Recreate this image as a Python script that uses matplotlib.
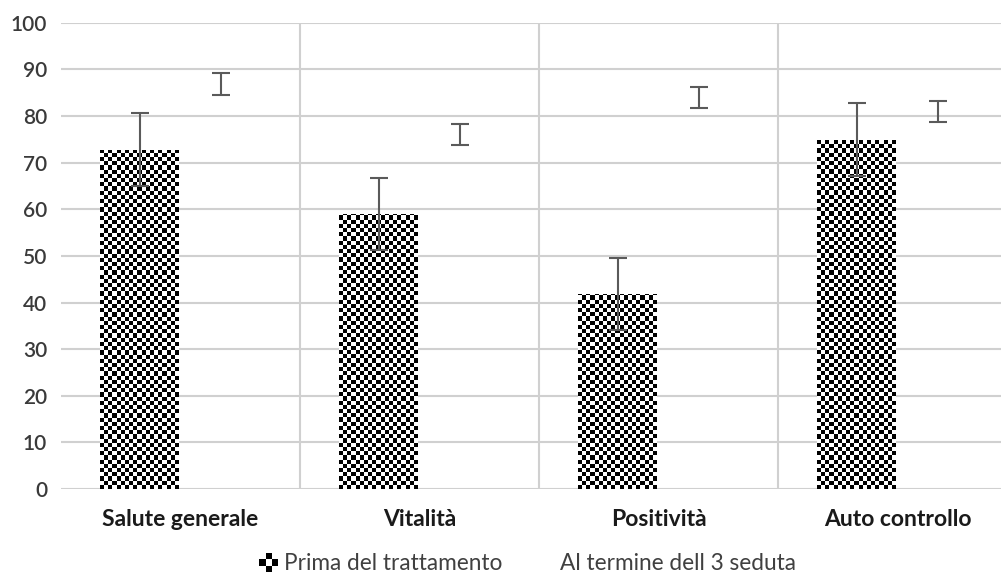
import numpy as np
import matplotlib.pyplot as plt
from matplotlib.patches import Rectangle
from matplotlib.legend_handler import HandlerBase

plt.rcParams['font.family'] = ['Lato', 'DejaVu Sans']

categories = ['Salute generale', 'Vitalità', 'Positività', 'Auto controllo']
prima = [72.8, 59.0, 41.9, 74.9]
prima_err = [7.8, 7.7, 7.7, 7.8]
dopo = [86.9, 76.0, 84.0, 81.0]
dopo_err = [2.4, 2.3, 2.3, 2.3]
labels = ['Prima del trattamento', 'Al termine dell 3 seduta']

fig = plt.figure(figsize=(10.01, 5.83), dpi=100)
ax = fig.add_axes([0.061, 0.161, 0.955, 0.8])

x = np.arange(len(categories))
w = 0.33
off = 0.17

bars1 = ax.bar(x - off, prima, w, color='none', edgecolor='none', zorder=2)
bars2 = ax.bar(x + off, dopo, w, color='none', edgecolor='none', zorder=2)

# checkerboard fill for the first series, cropped to each bar
cell_y = 0.9
ncols = 19
for b in bars1:
    x0, y0 = b.get_x(), b.get_y()
    bw, bh = b.get_width(), b.get_height()
    nrows = int(np.ceil(bh / cell_y))
    ii, jj = np.indices((nrows, ncols))
    board = ((ii + jj) % 2).astype(float)
    im = ax.imshow(board, cmap='gray', vmin=0, vmax=1, interpolation='nearest',
                   extent=(x0, x0 + bw, y0, y0 + nrows * cell_y), origin='lower',
                   aspect='auto', zorder=2)
    im.set_clip_path(b)

ax.errorbar(x - off, prima, yerr=prima_err, fmt='none', ecolor='#5a5a5a',
            elinewidth=1.5, capsize=6.5, capthick=1.5, zorder=3)
ax.errorbar(x + off, dopo, yerr=dopo_err, fmt='none', ecolor='#5a5a5a',
            elinewidth=1.5, capsize=6.5, capthick=1.5, zorder=3)

ax.set_xlim(-0.5, len(categories) - 0.5)
ax.set_ylim(0, 100)
ax.set_yticks(range(0, 101, 10))
ax.grid(axis='y', color='#d0d0d0', linewidth=1.5, zorder=0)
for xb in x[:-1] + 0.5:
    ax.axvline(xb, color='#d0d0d0', linewidth=1.5, zorder=0)
for s in ax.spines.values():
    s.set_visible(False)
ax.set_xticks(x)
ax.set_xticklabels(categories, fontsize=16.5, fontweight='bold', color='#1a1a1a')
ax.tick_params(axis='x', length=0, pad=14)
ax.tick_params(axis='y', length=0, pad=10, labelsize=15, labelcolor='#3a3a3a')
for t in ax.get_yticklabels():
    t.set_fontweight('semibold')
ax.set_axisbelow(True)


class CheckerHandler(HandlerBase):
    def create_artists(self, legend, orig_handle, xdescent, ydescent,
                       width, height, fontsize, trans):
        s = height * 0.4
        cx = width - 1.5 * s - xdescent
        cy = height / 2 - ydescent
        arts = []
        for dx, dy in [(0, 1), (1, 0), (-1, 0), (0, -1)]:
            r = Rectangle((cx + dx * s - s / 2, cy + dy * s - s / 2), s, s,
                          facecolor='black', edgecolor='none', transform=trans)
            arts.append(r)
        return arts


class BlankHandler(HandlerBase):
    def create_artists(self, legend, orig_handle, xdescent, ydescent,
                       width, height, fontsize, trans):
        r = Rectangle((-xdescent, -ydescent), width, height,
                      facecolor='none', edgecolor='none', transform=trans)
        return [r]


h1 = Rectangle((0, 0), 1, 1)
h2 = Rectangle((0, 1), 1, 1)
fig.legend([h1, h2], labels, loc='center', bbox_to_anchor=(0.5255, 0.033),
           ncol=2, frameon=False, fontsize=16.3, labelcolor='#404040',
           handler_map={h1: CheckerHandler(), h2: BlankHandler()},
           handlelength=1.0, handletextpad=0.25, columnspacing=1.3,
           borderpad=0)

fig.savefig('out.png', dpi=100)
